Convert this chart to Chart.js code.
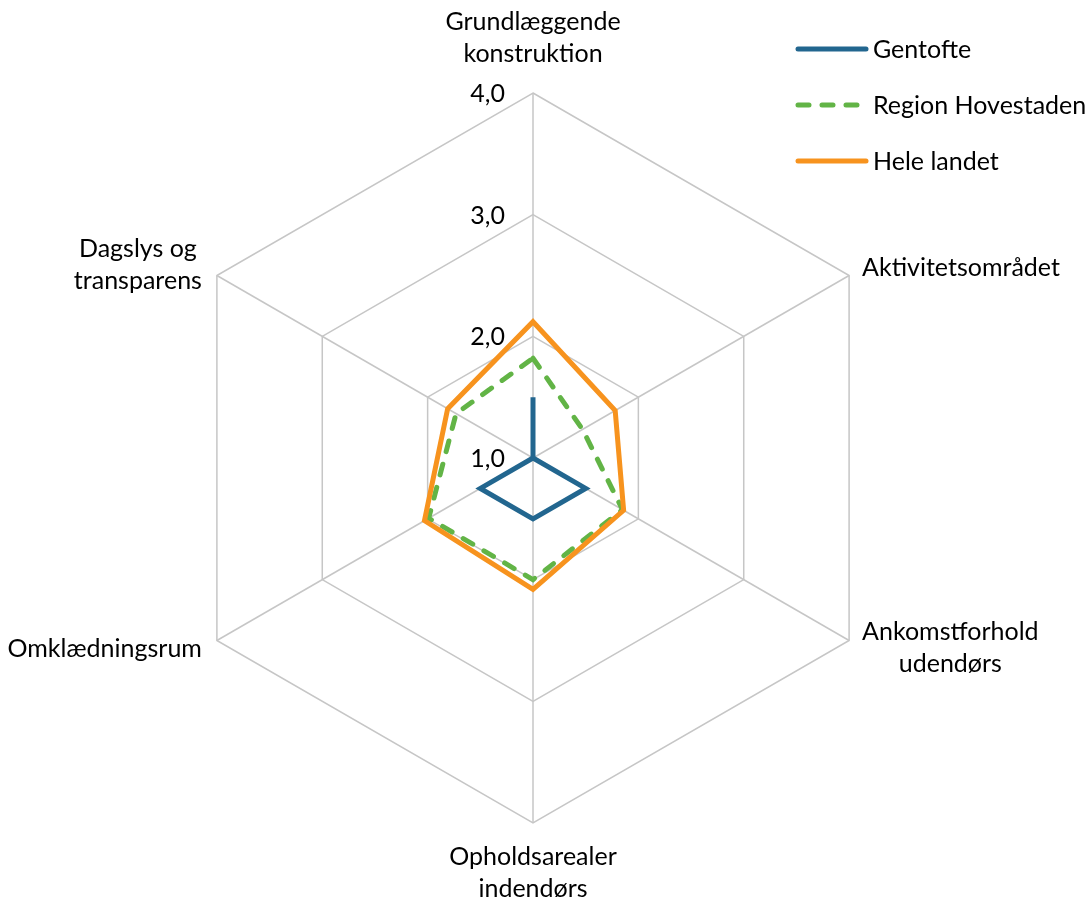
<!DOCTYPE html>
<html lang="da">
<head>
<meta charset="UTF-8" />
<title>Radar</title>
<script src="https://cdn.jsdelivr.net/npm/chart.js"></script>
<style>
  html, body { margin: 0; background: #fff; }
  .chart-wrapper { width: 1085px; height: 897px; }
</style>
</head>
<body>
<div class="chart-wrapper"><canvas id="radarChart"></canvas></div>
<script>
  // data
  const categories = [
    ['Grundlæggende', 'konstruktion'],
    ['Aktivitetsområdet'],
    ['Ankomstforhold', 'udendørs'],
    ['Opholdsarealer', 'indendørs'],
    ['Omklædningsrum'],
    ['Dagslys og', 'transparens']
  ];
  const gentofte = [1.5, 1.0, 1.5, 1.5, 1.5, 1.0];
  const regionHovestaden = [1.82, 1.47, 1.85, 2.0, 1.99, 1.73];
  const heleLandet = [2.12, 1.78, 1.86, 2.08, 2.03, 1.81];
  const tickValues = [1, 2, 3, 4];
  const tickLabels = ['1,0', '2,0', '3,0', '4,0'];
  const seriesNames = ['Gentofte', 'Region Hovestaden', 'Hele landet'];

  const FONT = '25px Lato, "Noto Sans", sans-serif';
  const LINE_H = 32;

  // tick labels, category labels and legend, drawn like the Excel original
  const excelLabels = {
    id: 'excelLabels',
    afterDraw(chart) {
      const ctx = chart.ctx;
      const r = chart.scales.r;
      ctx.save();
      ctx.font = FONT;
      ctx.fillStyle = '#000';

      ctx.textAlign = 'right';
      ctx.textBaseline = 'middle';
      tickValues.forEach((v, i) => {
        const y = r.yCenter - r.getDistanceFromCenterForValue(v);
        ctx.fillText(tickLabels[i], r.xCenter - 28, y + 1);
      });

      ctx.textBaseline = 'alphabetic';
      categories.forEach((lines, i) => {
        const p = r.getPointPosition(i, r.drawingArea);
        const widths = lines.map(t => ctx.measureText(t).width);
        const blockW = Math.max(...widths);
        let cx, y0;
        if (i === 0) { cx = p.x; y0 = p.y - 31 - LINE_H * (lines.length - 1); }
        else if (i === 3) { cx = p.x; y0 = p.y + 42; }
        else if (i === 1 || i === 2) {
          cx = p.x + 13 + blockW / 2;
          y0 = p.y + (lines.length > 1 ? -1 : 0);
        } else {
          cx = p.x - 15 - blockW / 2;
          y0 = p.y + (lines.length > 1 ? -19 : 16);
        }
        ctx.textAlign = 'center';
        lines.forEach((t, k) => ctx.fillText(t, cx, y0 + k * LINE_H));
      });

      // legend
      chart.data.datasets.forEach((ds, i) => {
        const y = 49 + i * 56;
        ctx.beginPath();
        ctx.lineWidth = 5;
        ctx.strokeStyle = ds.borderColor;
        ctx.lineCap = 'round';
        ctx.setLineDash(ds.borderDash || []);
        ctx.moveTo(798, y);
        ctx.lineTo(866, y);
        ctx.stroke();
        ctx.setLineDash([]);
        ctx.textAlign = 'left';
        ctx.textBaseline = 'middle';
        ctx.fillText(ds.label, 873, y + 1);
      });
      ctx.restore();
    }
  };

  const ctx = document.getElementById('radarChart').getContext('2d');
  new Chart(ctx, {
    type: 'radar',
    data: {
      labels: categories,
      datasets: [
        { label: seriesNames[0], data: gentofte, borderColor: '#22668f', order: 3 },
        { label: seriesNames[1], data: regionHovestaden, borderColor: '#62b446', borderDash: [11, 13], borderCapStyle: 'round', order: 2 },
        { label: seriesNames[2], data: heleLandet, borderColor: '#f7931e', order: 1 }
      ]
    },
    options: {
      responsive: true,
      maintainAspectRatio: false,
      animation: false,
      layout: { padding: { left: 168, right: 187, top: 93, bottom: 74 } },
      elements: {
        line: { borderWidth: 5, tension: 0, fill: false, borderJoinStyle: 'miter' },
        point: { radius: 0, hoverRadius: 0 }
      },
      scales: {
        r: {
          min: 1,
          max: 4,
          ticks: { stepSize: 1, display: false },
          pointLabels: { display: false },
          grid: { color: '#c6c6c6', lineWidth: 1.5 },
          angleLines: { color: '#c6c6c6', lineWidth: 1.5 }
        }
      },
      plugins: {
        legend: { display: false },
        tooltip: { enabled: false }
      }
    },
    plugins: [excelLabels]
  });
</script>
</body>
</html>
